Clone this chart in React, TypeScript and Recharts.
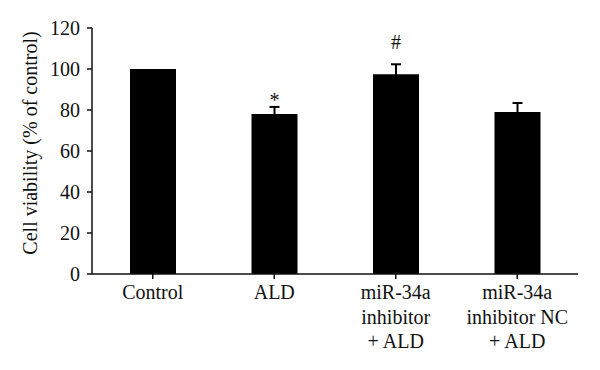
import { BarChart, Bar, XAxis, YAxis, ErrorBar, LabelList } from 'recharts'

const groups = ['Control', 'ALD', 'miR-34a\ninhibitor\n+ ALD', 'miR-34a\ninhibitor NC\n+ ALD']
const viability = [100, 78, 97.4, 79]
const sem = [null, 3.5, 4.9, 4.4]
const marks = ['', '*', '#', '']
const yTicks = [0, 20, 40, 60, 80, 100, 120]

const FONT = '"Liberation Serif", "Times New Roman", serif'

const chartData = groups.map((g, i) => ({
  group: g,
  value: viability[i],
  err: sem[i],
  mark: marks[i]
}))

// gap between error bar top and symbol baseline
const markGap: Record<string, number> = { '*': 0, '#': 15 }

const GroupTick = ({ x, y, payload }: any) => {
  const lines = String(payload.value).split('\n')
  return (
    <text x={x} y={y} textAnchor="middle" fontFamily={FONT} fontSize={20} fill="#111">
      {lines.map((l, i) => (
        <tspan key={i} x={x} dy={i === 0 ? 18 : 24.5}>{l}</tspan>
      ))}
    </text>
  )
}

const YLabel = ({ viewBox }: any) => {
  const cx = viewBox.x + 30
  const cy = viewBox.y + viewBox.height / 2 - 8
  return (
    <text
      x={cx}
      y={cy}
      transform={`rotate(-90, ${cx}, ${cy})`}
      textAnchor="middle"
      dominantBaseline="central"
      fontFamily={FONT}
      fontSize={20}
      fill="#111"
    >
      Cell viability (% of control)
    </text>
  )
}

export default function App() {
  // pixels per unit, used to put the mark above the error bar
  const plotH = 246
  const renderMark = (props: any) => {
    const { x, y, width, index } = props
    const m = marks[index]
    if (!m) return null
    const errPx = ((sem[index] || 0) / 120) * plotH
    return (
      <text
        x={x + width / 2}
        y={y - errPx - markGap[m]}
        textAnchor="middle"
        fontFamily={FONT}
        fontSize={20}
        fill="#111"
      >
        {m}
      </text>
    )
  }

  return (
    <div style={{ position: 'absolute', left: 0, top: 0, width: 600, height: 370, background: '#fff' }}>
      <BarChart
        width={600}
        height={370}
        data={chartData}
        margin={{ top: 28, right: 22, left: 0, bottom: 0 }}
        barCategoryGap="31%"
      >
        <XAxis
          xAxisId="edge"
          type="number"
          domain={[0, 4]}
          ticks={[0, 4]}
          height={0}
          axisLine={false}
          tick={false}
          tickSize={5}
          tickLine={{ stroke: '#111', strokeWidth: 1.5 }}
        />
        <XAxis
          dataKey="group"
          height={96}
          interval={0}
          tick={<GroupTick />}
          tickSize={5}
          tickMargin={2}
          axisLine={{ stroke: '#111', strokeWidth: 1.5 }}
          tickLine={{ stroke: '#111', strokeWidth: 1.5 }}
        />
        <YAxis
          width={92}
          domain={[0, 120]}
          ticks={yTicks}
          interval={0}
          tickSize={5}
          tickMargin={7}
          tick={{ fontFamily: FONT, fontSize: 20, fill: '#111' }}
          axisLine={{ stroke: '#111', strokeWidth: 1.5 }}
          tickLine={{ stroke: '#111', strokeWidth: 1.5 }}
          label={<YLabel />}
        />
        <Bar dataKey="value" fill="#000" barSize={46} isAnimationActive={false}>
          <ErrorBar dataKey="err" width={5} stroke="#000" strokeWidth={2} direction="y" />
          <LabelList dataKey="mark" content={renderMark} />
        </Bar>
      </BarChart>
    </div>
  )
}
